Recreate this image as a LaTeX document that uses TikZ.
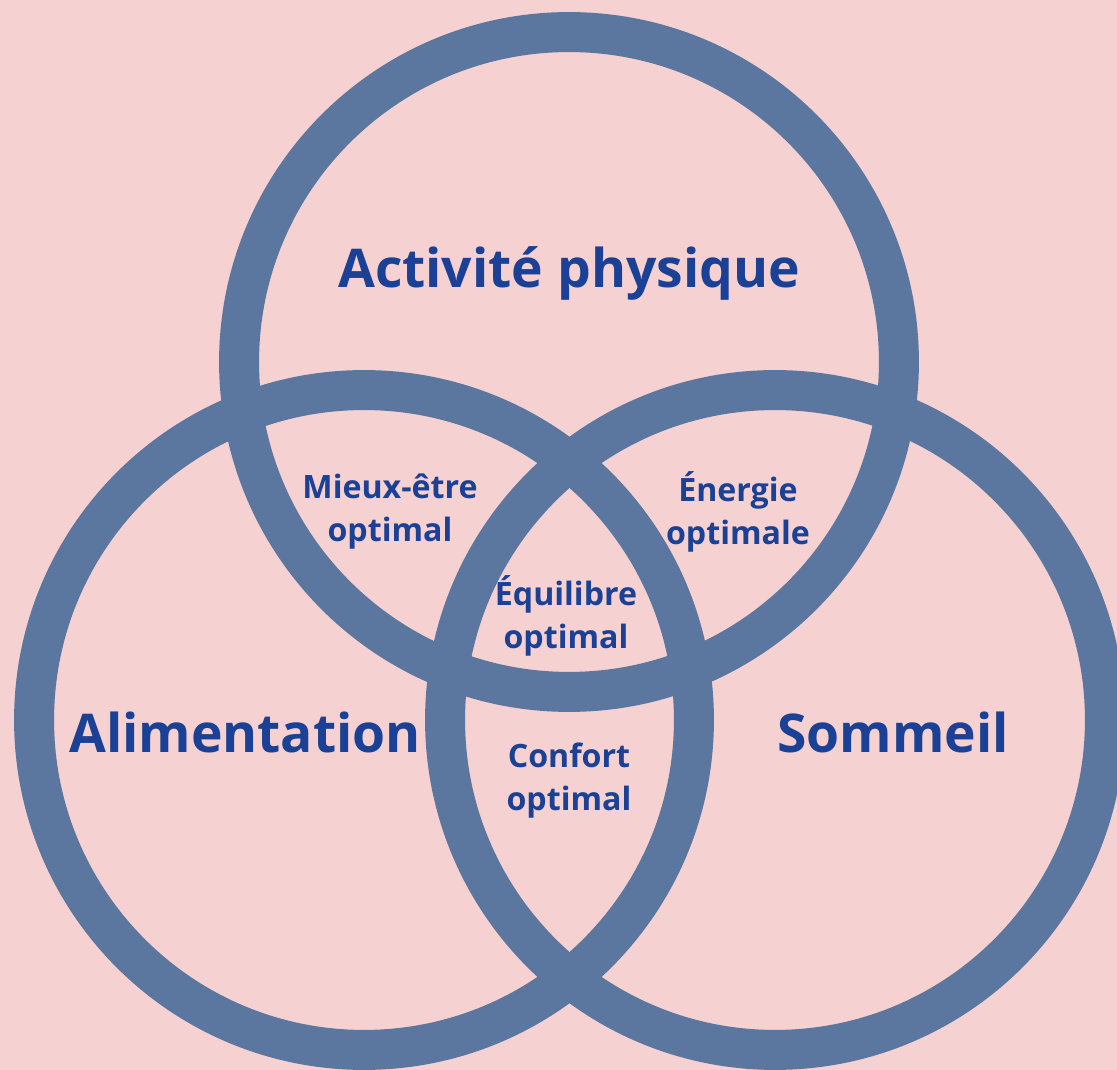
\documentclass[tikz,border=0pt]{standalone}
\usepackage{fontspec}
\setmainfont{Open Sans}
\usetikzlibrary{positioning}
\definecolor{blush}{HTML}{F5D1D1}
\definecolor{slate}{HTML}{5B77A0}
\definecolor{navy}{HTML}{1A4195}
\tikzset{ring/.style={circle,draw=slate,line width=0.8cm,minimum size=13.2cm,inner sep=0pt},biglabel/.style={text=navy,font=\fontsize{30.4}{36}\selectfont\bfseries},smalllabel/.style={text=navy,align=center,font=\fontsize{18.3}{24.5}\selectfont\bfseries}}

\begin{document}
\begin{tikzpicture}[x=0.02cm,y=-0.02cm]
\fill[blush] (0,0) rectangle (1117,1070);
\useasboundingbox (0,0) rectangle (1117,1070);
\node[ring] (activite) at (569,362) {};
\node[ring] (alim) at (364,720) {};
\node[ring] (sommeil) at (775,720) {};
\node[biglabel] (tactivite) at (569,273) {Activité physique};
\node[biglabel] (talim) at (245,732) {Alimentation};
\node[biglabel] (tsommeil) at (893,732) {Sommeil};
\node[smalllabel] (mieux) at (390,512) {Mieux-être\\optimal};
\node[smalllabel] (energie) at (738,512) {Énergie\\optimale};
\node[smalllabel] (equilibre) at (566,616) {Équilibre\\optimal};
\node[smalllabel] (confort) at (569,781) {Confort\\optimal};
\end{tikzpicture}
\end{document}
